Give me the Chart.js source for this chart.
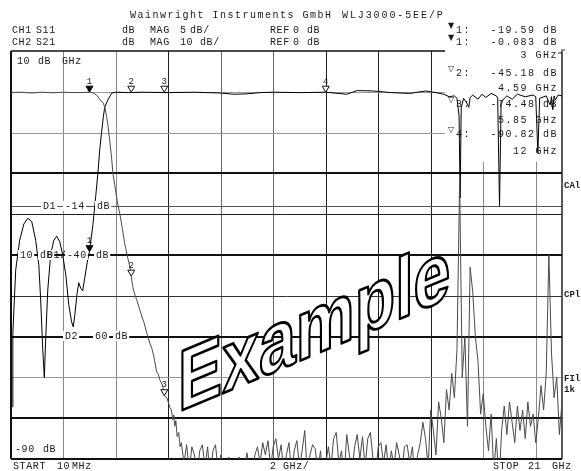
<!DOCTYPE html>
<html><head><meta charset="utf-8">
<script src="https://cdn.jsdelivr.net/npm/chart.js@4"></script>
<style>html,body{margin:0;padding:0;background:#fff}#wrap{width:581px;height:471px;position:relative}canvas{display:block}</style>
</head><body><div id="wrap"><canvas id="c" width="581" height="471"></canvas></div>
<script>
// ---- data (GHz / dB) ----
const s11Freq = [0.06,0.08,0.19,0.34,0.50,0.65,0.80,0.95,1.07,1.14,1.22,1.28,1.33,1.41,1.52,1.64,1.75,1.87,1.98,2.10,2.21,2.32,2.38,2.44,2.52,2.59,2.67,2.74,2.82,2.93,3.00,3.13,3.24,3.32,3.39,3.47,3.53,3.58,3.70,3.85,4.0,4.5,5.0,6.0,7.0,8.0,8.5,9.0,9.5,10.0,11.0,12.0,12.8,13.2,13.8,14.5,15.2,15.8,16.2,16.5,16.7,16.9,17.0,17.08,17.12,17.16,17.25,17.4,17.45,17.5,17.6,17.8,17.95,18.1,18.3,18.5,18.55,18.62,18.68,18.9,19.1,19.3,19.6,19.9,20.0,20.08,20.15,20.4,20.5,20.55,20.6,20.65,20.7,20.75,20.85,21.0];
const s11Db = [-38.6,-29.6,-21.8,-18.2,-16.2,-15.5,-15.9,-18.2,-21.2,-25.5,-31.6,-35.0,-30.4,-24.3,-20.0,-18.2,-17.7,-18.4,-20.0,-22.5,-26.1,-28.2,-28.8,-27.4,-24.9,-23.4,-24.1,-24.4,-22.8,-20.6,-19.59,-16.3,-12.7,-10.0,-7.1,-4.7,-3.0,-1.9,-1.0,-0.15,-0.05,-0.1,-0.05,-0.1,-0.05,-0.15,-0.3,-0.25,-0.1,-0.05,-0.1,-0.05,-0.3,0.15,0.1,-0.1,-0.2,0.1,-0.1,-0.3,-0.6,-0.5,-0.8,-3,-13,-2,-0.8,-1.5,-1.9,-0.7,-0.4,-0.9,-0.3,-0.7,-0.2,-0.5,-0.8,-14,-1.2,-0.5,-0.9,-0.3,-0.6,-0.4,-0.6,-7.5,-0.8,-0.5,-1.3,-1.6,-0.6,-2.2,-0.5,-1.0,-0.4,-0.5];

const s21Freq = [0.01,0.4,0.8,1.2,1.6,2.0,2.4,2.8,3.0,3.1,3.2,3.3,3.4,3.51,3.58,3.65,3.70,3.77,3.85,3.89,3.96,4.08,4.15,4.25,4.34,4.45,4.54,4.59,4.65,4.72,4.80,4.92,5.00,5.07,5.18,5.30,5.38,5.45,5.56,5.62,5.68,5.79,5.85,5.95,6.06,6.12,6.17,6.21,6.25,6.29,6.34,6.40,6.45,
6.5,6.6,6.7,6.8,6.9,7.0,7.1,7.2,7.3,7.4,7.5,7.6,7.7,7.8,7.9,8.0,8.1,8.2,8.3,8.4,8.5,8.6,8.7,8.8,8.9,9.0,9.1,9.2,9.3,9.4,9.5,9.6,9.7,9.8,9.9,10.0,10.1,10.2,10.3,10.4,10.5,10.6,10.7,10.8,10.9,
11.0,11.1,11.2,11.3,11.4,11.5,11.6,11.7,11.8,11.9,12.0,12.1,12.2,12.3,12.4,12.5,12.6,12.7,12.8,12.9,13.0,13.1,13.2,13.3,13.4,13.5,13.6,13.7,13.8,13.9,14.0,14.1,14.2,14.3,14.4,14.5,14.6,14.7,14.8,14.9,15.0,15.1,15.2,15.3,15.4,15.5,15.6,15.7,15.8,15.9,16.0,16.1,16.2,16.3,16.4,16.5,16.6,16.7,16.8,16.9,17.0,17.1,17.2,17.3,17.4,17.5,17.6,17.7,17.8,17.9,18.0,18.1,18.2,18.3,18.4,18.5,18.6,18.7,18.8,18.9,19.0,19.1,19.2,19.3,19.4,19.5,19.6,19.7,19.8,19.9,20.0,20.1,20.2,20.3,20.4,20.5,20.6,20.7,20.8,20.9,21.0];
const s21Db = [-0.2,-0.1,-0.3,-0.1,-0.25,-0.1,-0.2,-0.15,-0.083,-0.2,-0.5,-1.0,-2.0,-2.6,-3.7,-6.0,-8.1,-11.8,-16.7,-19.9,-22.8,-27.7,-29.7,-33.5,-37.1,-40.5,-42.9,-45.18,-47.8,-49.6,-51.0,-53.5,-55.2,-56.4,-59.1,-61.6,-63.0,-64.8,-68.7,-69.2,-70.6,-72.1,-74.48,-75.0,-77.3,-78.0,-80.4,-79.2,-82.0,-80.6,-84.5,-83.5,-87.0,
-86,-91,-86.5,-93,-87,-89,-94,-88,-86.5,-92,-87,-95,-88,-86.5,-93,-89,-92,-94,-89.5,-93,-96,-90.5,-89.5,-94,-92,-88.5,-93,-95,-89,-87,-91,-86,-89,-85.5,-92,-87,-85,-90,-86.5,-93,-89,-86,-94,-88,-85.5,
-92,-88,-83,-94,-89,-86.5,-87.5,-93,-88,-95,-91,-87,-92,-85,-83.5,-91,-88,-94,-84,-89,-93,-87,-84,-90,-84.5,-92,-85,-83.5,-90,-94,-87,-86,-91,-86.5,-93,-88,-92,-86,-89,-93,-87,-86.5,-91,-87,-94,-89,-86,-81,-85,-92,-78,-83,-89,-76,-80,-86,-73,-78,-69,-75,-63,-22,-70,-60,-82,-43,-49,-60,-66,-79,-74,-82,-88,-79,-93,-85,-96,-83,-77,-84,-76,-81,-86,-77,-83,-78,-85,-76,-82,-79,-86,-80,-72,-78,-69,-40,-64,-75,-70,-84,-76];

const markerFreq = [3, 4.59, 5.85, 12];
const s11MarkerDb = [-19.59, -0.05, -0.05, -0.05];
const s21MarkerDb = [-0.083, -45.18, -74.48, -90.82];

const xGridGHz = [2,4,6,8,10,12,14,16,18,20];
const yGridDb = [0,-10,-20,-30,-40,-50,-60,-70,-80];

// ---- styles ----
const xGridColor = ['#8a8a8a','#8a8a8a','#222','#666','#666','#222','#222','#222','#8a8a8a','#8a8a8a'];
const yGridColor = ['#999','#999','#111','#222','#111','#333','#111','#999','#111'];
const yGridWidth = [1,1,2,1,2,1,2,1,2];
const MONO = '"Liberation Mono", "DejaVu Sans Mono", monospace';

function txt(ctx, s, x, y, o) {
  o = o || {};
  ctx.save();
  ctx.font = o.font || ('10px ' + MONO);
  ctx.letterSpacing = (o.ls !== undefined ? o.ls : 0.6) + 'px';
  ctx.textAlign = o.align || 'left';
  ctx.textBaseline = 'middle';
  if (o.bg) {
    const w = ctx.measureText(s).width;
    const x0 = ctx.textAlign === 'right' ? x - w : x;
    ctx.fillStyle = '#fff';
    ctx.fillRect(x0 - 2, y - 5, w + 3, 10);
  }
  ctx.fillStyle = o.color || '#1a1a1a';
  ctx.fillText(s, x, y);
  ctx.restore();
}
function seg(ctx, x1, y1, x2, y2, c, w) {
  ctx.beginPath(); ctx.strokeStyle = c; ctx.lineWidth = w;
  ctx.moveTo(x1, y1); ctx.lineTo(x2, y2); ctx.stroke();
}

const READOUT_LEFT = 445, READOUT_BOTTOM = 162;

const gridPlugin = {
  id: 'vnaGrid',
  beforeDatasetsDraw(chart) {
    const { ctx, chartArea: a, scales } = chart;
    const xs = scales.x, y2 = scales.y2, y1 = scales.y1;
    ctx.save();
    xGridGHz.forEach((f, i) => {
      const px = Math.round(xs.getPixelForValue(f)) + 0.5;
      const top = px > READOUT_LEFT ? READOUT_BOTTOM : a.top;
      seg(ctx, px, top, px, a.bottom, xGridColor[i], 1);
    });
    yGridDb.forEach((d, i) => {
      let py = y2.getPixelForValue(d);
      py = yGridWidth[i] === 2 ? Math.round(py) : Math.round(py) + 0.5;
      const right = py < READOUT_BOTTOM ? READOUT_LEFT : a.right;
      seg(ctx, a.left, py, right, py, yGridColor[i], yGridWidth[i]);
    });
    // limit line D1 -14 dB (CH1 scale)
    const pl = Math.round(y1.getPixelForValue(-14)) + 0.5;
    seg(ctx, a.left, pl, a.right, pl, '#555', 1);
    // frame
    seg(ctx, a.left, a.top, READOUT_LEFT, a.top, '#111', 1.5);
    seg(ctx, a.left, a.top, a.left, a.bottom, '#111', 2);
    seg(ctx, a.left, a.bottom, a.right, a.bottom, '#111', 2);
    seg(ctx, a.right, a.top, a.right, a.bottom, '#222', 1.5);
    seg(ctx, a.right - 4, a.top + 2, a.right, a.top + 2, '#222', 1);
    ctx.restore();
  },
  afterDatasetsDraw(chart) {
    const { ctx, chartArea: a, scales } = chart;
    const xs = scales.x;
    ctx.save();
    ctx.beginPath(); ctx.rect(a.left, a.top - 20, a.right - a.left, a.bottom - a.top + 20); ctx.clip();
    const drawMarker = (f, v, scale, idx) => {
      const px = xs.getPixelForValue(f), py = scale.getPixelForValue(v);
      if (py > a.bottom || py < a.top) return;
      ctx.beginPath();
      ctx.moveTo(px - 3.5, py - 6); ctx.lineTo(px + 3.5, py - 6); ctx.lineTo(px, py); ctx.closePath();
      ctx.lineWidth = 1; ctx.strokeStyle = '#111';
      if (idx === 0) { ctx.fillStyle = '#000'; ctx.fill(); } else { ctx.fillStyle = '#fff'; ctx.fill(); }
      ctx.stroke();
      txt(ctx, String(idx + 1), px, py - 11, { align: 'center', font: '9px ' + MONO, ls: 0 });
    };
    markerFreq.forEach((f, i) => drawMarker(f, s11MarkerDb[i], scales.y1, i));
    markerFreq.forEach((f, i) => drawMarker(f, s21MarkerDb[i], scales.y2, i));
    ctx.restore();

    // watermark
    ctx.save();
    ctx.translate(178, 412);
    ctx.transform(1, -0.42, 0, 1, 0, 0);
    ctx.scale(0.77, 1);
    ctx.font = 'bold 86px "Liberation Sans", Arial, sans-serif';
    ctx.textBaseline = 'alphabetic';
    ctx.lineJoin = 'round';
    ctx.fillStyle = '#fff';
    ctx.fillText('Example', 0, 0);
    ctx.lineWidth = 2.8;
    ctx.strokeStyle = '#000';
    ctx.strokeText('Example', 0, 0);
    ctx.restore();
  },
  afterDraw(chart) {
    const { ctx } = chart;
    // header
    txt(ctx, 'Wainwright Instruments GmbH', 130, 15, { ls: 1.5 });
    txt(ctx, 'WLJ3000-5EE/P', 342, 15, { ls: 1.9 });
    const rows = [['CH1', 'S11', '5', 30], ['CH2', 'S21', '10', 42]];
    rows.forEach(r => {
      txt(ctx, r[0], 12, r[3]); txt(ctx, r[1], 36, r[3]);
      txt(ctx, 'dB', 122, r[3]); txt(ctx, 'MAG', 150, r[3]);
      txt(ctx, r[2], 180, r[3]); txt(ctx, 'dB/', r[2] === '5' ? 190 : 200, r[3]);
      txt(ctx, 'REF', 270, r[3]); txt(ctx, '0', 293, r[3]); txt(ctx, 'dB', 307, r[3]);
    });
    // readout
    const rd = [['▼', '1:', '-19.59 dB', 30], ['▼', '1:', '-0.083 dB', 42], ['', '', '3 GHz', 55],
      ['▽', '2:', '-45.18 dB', 73], ['', '', '4.59 GHz', 88], ['▽', '3:', '-74.48 dB', 104],
      ['', '', '5.85 GHz', 120], ['▽', '4:', '-90.82 dB', 134], ['', '', '12 GHz', 151]];
    rd.forEach(r => {
      if (r[0]) {
        txt(ctx, r[0], 448, r[3] - 4, { font: '8px "DejaVu Sans"', ls: 0 });
        txt(ctx, r[1], 456, r[3], { ls: 1.5 });
      }
      txt(ctx, r[2], 558, r[3], { align: 'right', ls: 1.5 });
    });
    seg(ctx, 561, 50, 565, 50, '#222', 1);
    // in-plot labels
    txt(ctx, '10', 17, 61); txt(ctx, 'dB', 38, 61); txt(ctx, 'GHz', 62, 61);
    txt(ctx, '-90', 15, 449); txt(ctx, 'dB', 43, 449);
    // limit line labels
    txt(ctx, 'D1', 43, 206, { bg: true }); txt(ctx, '-14', 65, 206, { bg: true }); txt(ctx, 'dB', 97, 206, { bg: true });
    txt(ctx, '10', 20, 255, { bg: true }); txt(ctx, 'dB', 40, 255, { bg: true });
    txt(ctx, 'D1/', 47, 255); txt(ctx, '-40', 67, 255, { bg: true }); txt(ctx, 'dB', 96, 255, { bg: true });
    txt(ctx, 'D2', 65, 336, { bg: true }); txt(ctx, '60', 95, 336, { bg: true }); txt(ctx, 'dB', 115, 336, { bg: true });
    // bottom
    txt(ctx, 'START', 13, 466); txt(ctx, '10', 57, 466); txt(ctx, 'MHz', 72, 466);
    txt(ctx, '2', 270, 466); txt(ctx, 'GHz/', 283, 466);
    txt(ctx, 'STOP', 493, 466); txt(ctx, '21', 528, 466); txt(ctx, 'GHz', 552, 466);
    // right annotations
    const rf = 'bold 9px ' + MONO;
    txt(ctx, 'CAl', 564, 186, { font: rf, ls: 0 });
    txt(ctx, 'CPl', 564, 295, { font: rf, ls: 0 });
    txt(ctx, 'FIl', 564, 379, { font: rf, ls: 0 });
    txt(ctx, '1k', 564, 390, { font: rf, ls: 0 });
  }
};

new Chart(document.getElementById('c'), {
  type: 'line',
  data: {
    datasets: [
      { label: 'S21', data: s21Freq.map((f, i) => ({ x: f, y: s21Db[i] })), yAxisID: 'y2',
        borderColor: '#4a4a4a', borderWidth: 1, pointRadius: 0, tension: 0, fill: false },
      { label: 'S11', data: s11Freq.map((f, i) => ({ x: f, y: s11Db[i] })), yAxisID: 'y1',
        borderColor: '#000', borderWidth: 1, pointRadius: 0, tension: 0, fill: false }
    ]
  },
  options: {
    responsive: false, animation: false, devicePixelRatio: 1, events: [],
    layout: { padding: { left: 11, top: 51, right: 19, bottom: 12 } },
    plugins: { legend: { display: false }, tooltip: { enabled: false }, title: { display: false } },
    scales: {
      x: { type: 'linear', min: 0.01, max: 21, display: false },
      y1: { type: 'linear', min: -45, max: 5, display: false },
      y2: { type: 'linear', min: -90, max: 10, display: false }
    }
  },
  plugins: [gridPlugin]
});
</script></body></html>
